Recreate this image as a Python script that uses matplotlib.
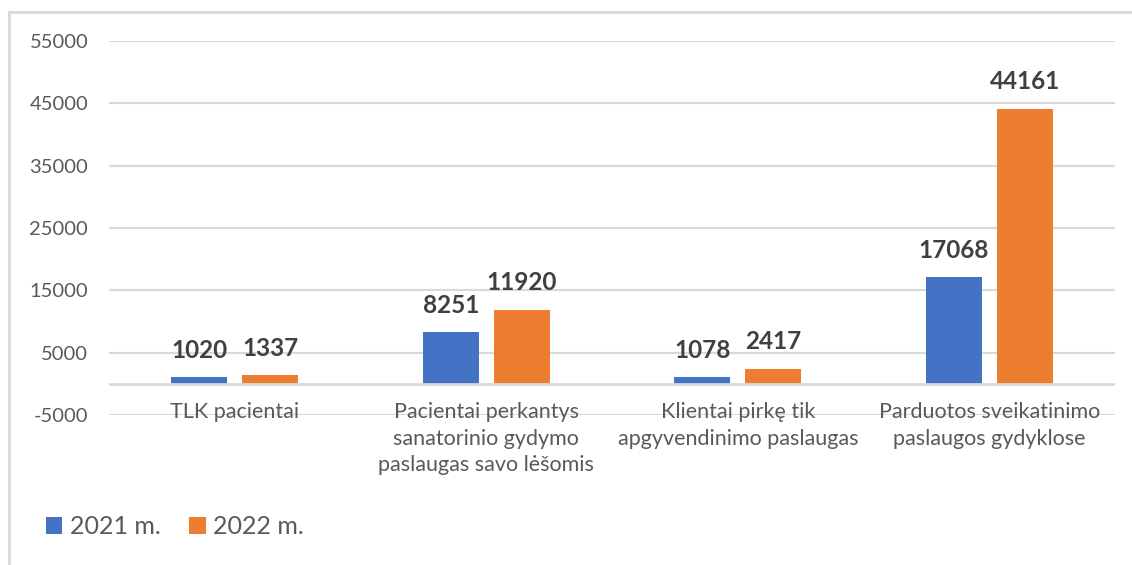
import numpy as np
import matplotlib.pyplot as plt
from matplotlib.lines import Line2D

plt.rcParams['font.family'] = ['Lato', 'DejaVu Sans']

# duomenys
kategorijos = ["TLK pacientai",
               "Pacientai perkantys\nsanatorinio gydymo\npaslaugas savo lėšomis",
               "Klientai pirkę tik\napgyvendinimo paslaugas",
               "Parduotos sveikatinimo\npaslaugos gydyklose"]
v2021 = [1020, 8251, 1078, 17068]
v2022 = [1337, 11920, 2417, 44161]
serijos = ["2021 m.", "2022 m."]
yticks = [-5000, 5000, 15000, 25000, 35000, 45000, 55000]

blue = '#4472C4'
orange = '#ED7D31'
grid = '#D9D9D9'
txt = '#595959'

fig = plt.figure(figsize=(11.32, 5.65), dpi=100)
ax = fig.add_axes([109/1132, 1-415/565, 1006/1132, 374/565])

x = np.arange(len(kategorijos))
w = 0.223
off = 0.141
b1 = ax.bar(x - off, v2021, w, color=blue, label=serijos[0], zorder=3)
b2 = ax.bar(x + off, v2022, w, color=orange, label=serijos[1], zorder=3)

for bars in (b1, b2):
    ax.bar_label(bars, padding=11, fontsize=17.5, fontweight='bold', color='#404040')

ax.set_xlim(-0.5, len(kategorijos) - 0.5)
ax.set_ylim(-5000, 55000)
ax.set_yticks(yticks)
ax.set_yticklabels([str(t) for t in yticks], fontsize=14.5, color=txt)
ax.tick_params(axis='y', length=0, pad=15)
ax.set_xticks([])
for t in yticks:
    ax.axhline(t, color=grid, lw=1.5, zorder=1)
ax.axhline(0, color=grid, lw=2, zorder=4)
for s in ax.spines.values():
    s.set_visible(False)

# kategoriju pavadinimai
for i, lab in enumerate(kategorijos):
    ax.annotate(lab, xy=(i, 0), xycoords=('data', 'axes fraction'),
                xytext=(0, 9), textcoords='offset points',
                ha='center', va='top', fontsize=15.5, color=txt,
                linespacing=1.38)

fig.legend(handles=[b1, b2], loc='center left', bbox_to_anchor=(46/1132, 1-527/565),
           ncol=2, frameon=False, fontsize=18, handlelength=0.65, handleheight=0.65,
           handletextpad=0.3, columnspacing=1.15, labelcolor=txt,
           borderpad=0, borderaxespad=0)

# remelis
fig.add_artist(Line2D([9/1132, 9/1132], [0, 1-12/565], color=grid, lw=2))
fig.add_artist(Line2D([9/1132, 1], [1-12/565, 1-12/565], color=grid, lw=2))

fig.savefig('out.png', dpi=100)
